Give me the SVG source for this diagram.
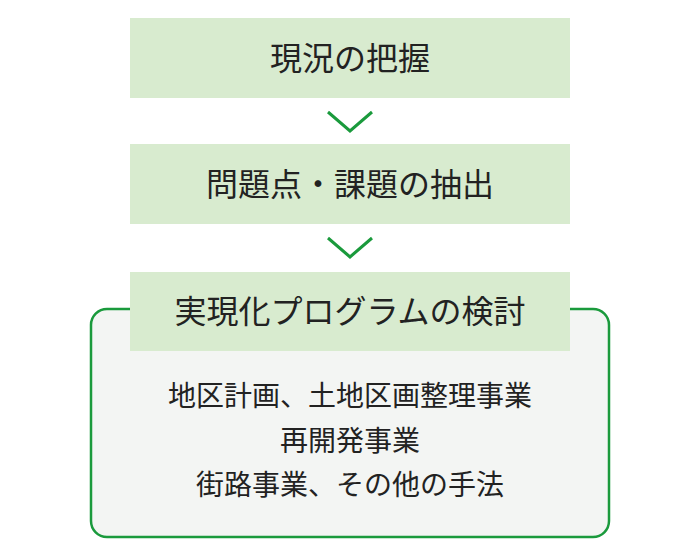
<svg xmlns="http://www.w3.org/2000/svg" width="700" height="560" viewBox="0 0 700 560">
<style>
.step{fill:#d8ebcf;}
.title{font-family:"Noto Sans CJK JP","Noto Sans CJK SC",sans-serif;font-size:32px;font-weight:400;fill:#222;text-anchor:middle;}
.body{font-family:"Noto Sans CJK JP","Noto Sans CJK SC",sans-serif;font-size:28px;font-weight:400;fill:#222;text-anchor:middle;}
.chev{fill:none;stroke:#1a9a3c;stroke-width:3;}
.panel{fill:#f3f5f3;stroke:#1a9a3c;stroke-width:2.5;}
</style>
<rect width="700" height="560" fill="#fff"/>
<g id="methods">
<rect class="panel" x="91" y="309" width="518" height="228" rx="16" ry="16"/>
<text class="body" x="350" y="406">地区計画、土地区画整理事業</text>
<text class="body" x="350" y="451">再開発事業</text>
<text class="body" x="350" y="495">街路事業、その他の手法</text>
</g>
<g id="step1">
<rect class="step" x="130" y="18" width="440" height="80"/>
<text class="title" x="350" y="70">現況の把握</text>
</g>
<g id="step2">
<rect class="step" x="130" y="144" width="440" height="80"/>
<text class="title" x="350" y="196">問題点・課題の抽出</text>
</g>
<g id="step3">
<rect class="step" x="130" y="272" width="440" height="79"/>
<text class="title" x="350" y="323">実現化プログラムの検討</text>
</g>
<g id="connectors">
<polyline class="chev" points="328,112 350,131 372,112"/>
<polyline class="chev" points="328,238 350,257 372,238"/>
</g>
</svg>
